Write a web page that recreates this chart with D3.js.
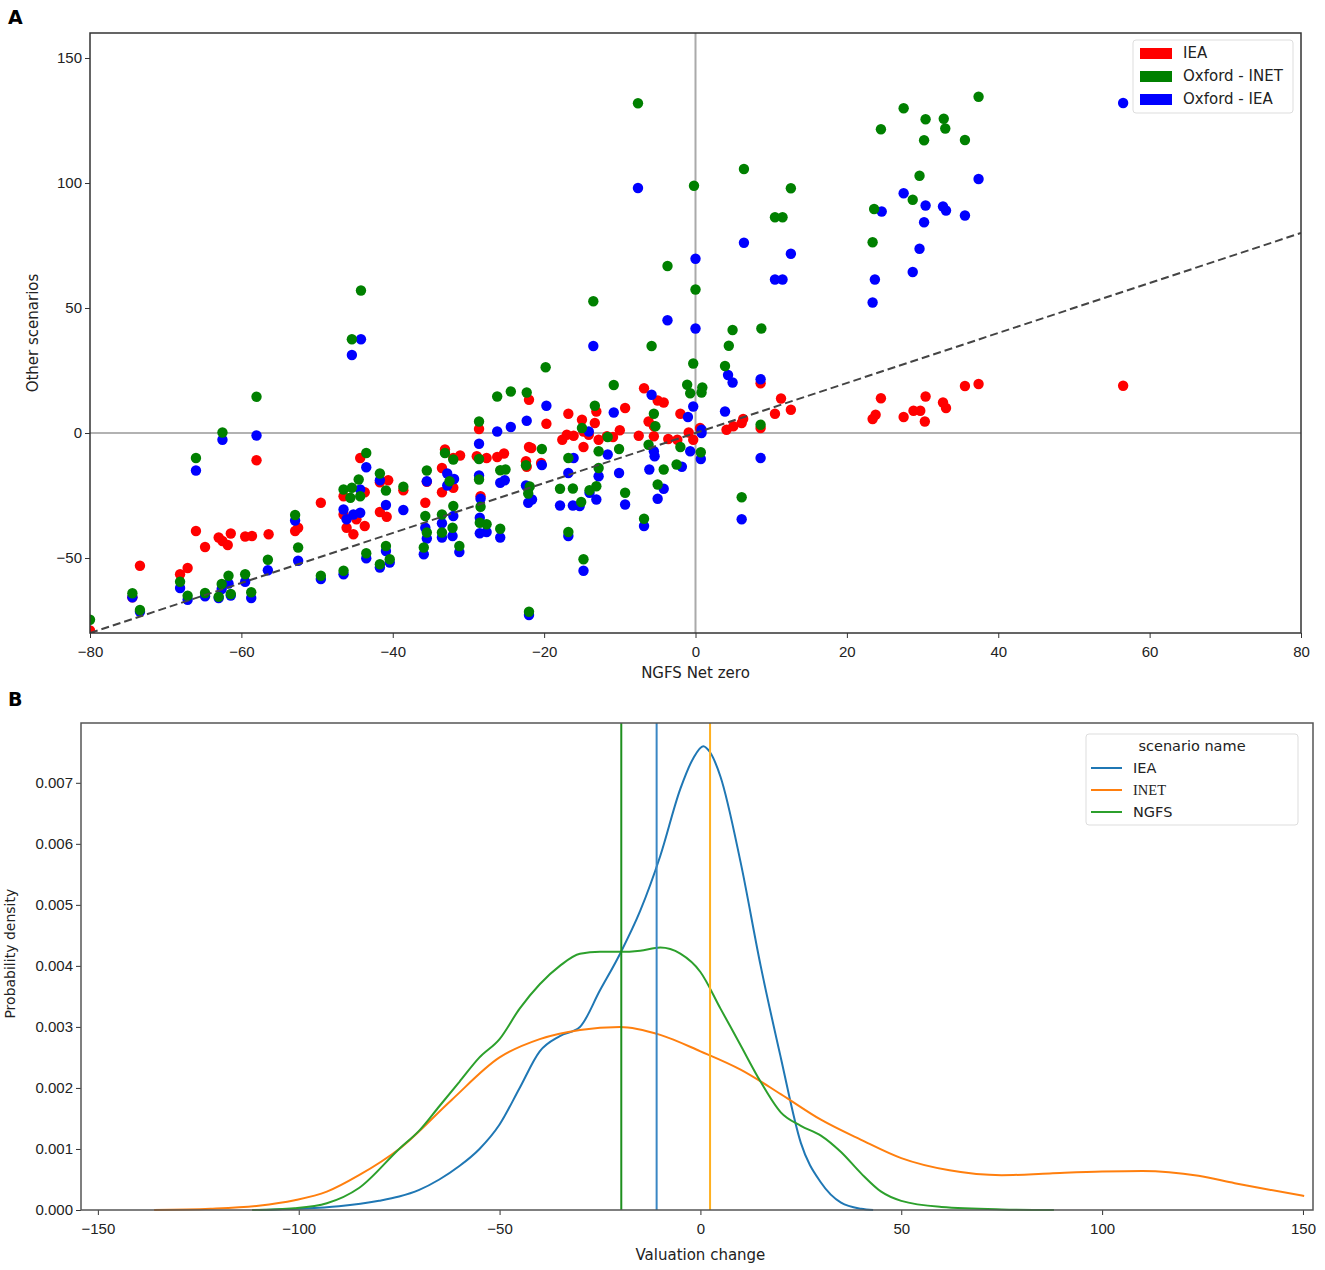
<!DOCTYPE html>
<html>
<head>
<meta charset="utf-8">
<script src="https://cdn.jsdelivr.net/npm/d3@7"></script>
<style>
  body { margin: 0; background: #fff; }
  svg { font-family: "DejaVu Sans", sans-serif; }
  .tick text { fill: #222; }
</style>
</head>
<body>
<div id="chart"></div>
<script>
// ---------- panel A data: [NGFS net zero, other scenario] ----------
var ieaPoints = [
  [-80,-79],[-74.4,-65.7],[-73.4,-53.1],[-68.1,-56.5],[-67.1,-54],[-66,-39.2],[-64.8,-45.6],[-63,-41.8],
  [-62.5,-43.2],[-61.8,-44.8],[-61.4,-40.2],[-59.5,-41.4],[-58.6,-41.2],[-58,-10.9],[-56.4,-40.5],
  [-52.9,-39.2],[-52.5,-37.9],[-49.5,-27.9],[-46.5,-25.3],[-46.5,-32.6],[-46.1,-37.9],[-45.2,-40.5],
  [-44.8,-34.5],[-43.7,-37.2],[-43.7,-23.7],[-44.3,-10],[-41.7,-19.7],[-40.6,-18.9],[-41.7,-31.6],
  [-40.8,-33.5],[-38.6,-22.9],[-35.5,-19.5],[-35.7,-27.9],[-33.1,-6.6],[-33.5,-14],[-33.5,-23.7],
  [-32,-10],[-31.1,-9],[-32,-21.9],[-28.6,1.6],[-28.9,-9.3],[-27.6,-10],[-28.4,-25.3],[-26.2,-9.6],
  [-25.3,-8.2],[-22,13.3],[-22,-5.6],[-21.7,-6],[-22.4,-11.3],[-22.3,-13.5],[-20.4,-12],[-19.7,3.7],
  [-16.8,7.7],[-15,5.3],[-13.3,4],[-13.1,8.6],[-9.3,10],[-6.8,17.9],[-5,13],[-4.2,12.2],[-6.2,4.6],
  [-5.5,2.7],[-2,7.7],[0.6,2],[0.7,1],[-17.6,-2.7],[-17,-0.7],[-16.1,-1.1],[-14.8,0.6],[-14.1,-0.7],
  [-12.8,-2.7],[-14.8,-5.6],[-11.7,-1.3],[-10.9,-1.6],[-10,1.1],[-7.5,-1.1],[-5.5,-1.3],[-3.6,-2.4],
  [-2.4,-2.7],[-0.9,0.2],[-0.3,-2.7],[4.1,1.3],[5,2.7],[6.1,4],[6.3,5.6],[8.6,19.9],[8.6,2],[10.5,7.7],
  [11.3,13.8],[12.6,9.3],[23.4,5.6],[23.8,7.3],[24.5,13.9],[27.5,6.4],[28.8,8.9],[29.7,8.9],[30.3,4.6],
  [30.4,14.6],[32.7,12.2],[33.1,10],[35.6,18.8],[37.4,19.6],[56.5,18.9]
];

var oxfordIeaPoints = [
  [-74.4,-65.7],[-73.4,-71.5],[-68.1,-62],[-67.1,-66.7],[-66,-15],[-64.8,-65.3],[-63,-66],[-62.5,-2.7],
  [-62.6,-62.4],[-61.7,-60.2],[-61.4,-65],[-59.5,-59.5],[-58.7,-66],[-58,-1],[-56.5,-54.9],[-52.9,-35],
  [-52.5,-51.1],[-49.5,-58.4],[-46.5,-56.5],[-46.5,-30.6],[-46.1,-34.5],[-45.2,-32.6],[-44.3,-31.9],
  [-44.3,-22.6],[-45.4,31.2],[-44.2,37.5],[-43.5,-13.7],[-43.5,-50.1],[-41.7,-18.9],[-40.9,-28.8],
  [-40.9,-47.2],[-41.7,-53.8],[-40.4,-51.8],[-38.6,-30.8],[-35.5,-19.3],[-35.7,-37.9],[-35.5,-42.2],
  [-35.9,-48.5],[-32.8,-16.2],[-32.8,-21],[-33.5,-36.1],[-33.5,-41.8],[-32,-33.2],[-32.1,-41.2],
  [-31.2,-47.6],[-31.9,-18.4],[-28.6,-4.3],[-28.6,-17],[-28.4,-26.3],[-28.5,-33.9],[-28.5,-40.1],
  [-27.6,-39.6],[-26.2,0.6],[-24.4,2.4],[-22.3,4.9],[-19.7,10.9],[-20.3,-12.8],[-22.4,-21],[-22.1,-27.9],
  [-21.6,-26.6],[-25.8,-19.9],[-25.2,-18.9],[-25.8,-41.8],[-5.8,15.3],[4.3,23.2],[4.9,20.2],[8.6,21.5],
  [-0.3,10.6],[3.9,8.6],[-14.1,0.6],[-10.8,8.2],[-1,6.4],[0.8,1.3],[0.8,0],[-11.6,-8.6],[-16.1,-10],
  [-16.8,-16],[-12.8,-17.3],[-10.1,-16],[-5.5,-7.3],[-5.4,-9.3],[-0.7,-7.3],[0.7,-10.4],[-6.1,-14.6],
  [-1.8,-13.5],[-4.2,-22.3],[-5,-26.3],[-17.9,-29],[-16.2,-29],[-15.3,-29.2],[-14,-23.9],[-13.1,-26.6],
  [-9.3,-28.6],[-6.8,-37.2],[-16.8,-41.2],[-14.8,-55.1],[-22,-72.8],[-7.6,98],[8.6,-10],[6.1,-34.5],
  [6.4,76.1],[12.6,71.7],[10.5,61.4],[11.5,61.4],[0,69.7],[-3.7,45.1],[0,41.8],[-13.5,34.8],
  [23.4,52.2],[23.7,61.4],[24.6,88.6],[27.5,95.9],[28.7,64.4],[29.6,73.7],[30.2,84.3],[30.4,91],
  [32.7,90.6],[33.1,89],[35.6,87],[37.4,101.6],[56.5,132]
];

var oxfordInetPoints = [
  [-80,-74.7],[-74.4,-64.1],[-73.4,-70.8],[-68.1,-59.5],[-67.1,-65.1],[-66,-10],[-64.8,-64],[-63,-65.5],
  [-62.5,0.2],[-62.6,-60.4],[-61.7,-57.1],[-61.4,-64.4],[-59.5,-56.5],[-58.7,-63.7],[-58,14.5],
  [-56.5,-50.7],[-52.9,-32.8],[-52.5,-45.8],[-49.5,-57.1],[-46.5,-55.1],[-46.5,-22.6],[-45.4,-21.9],
  [-44.5,-18.6],[-45.6,-25.9],[-44.3,-25.3],[-45.4,37.5],[-44.2,57],[-43.5,-8],[-43.5,-48.1],
  [-41.7,-16.2],[-40.9,-23],[-40.9,-45.2],[-41.7,-52.5],[-40.4,-50.5],[-38.6,-21.5],[-35.5,-15],
  [-35.7,-33.2],[-35.5,-39.8],[-35.9,-45.8],[-33.1,-8],[-33.5,-32.6],[-33.5,-39.8],[-32,-29.2],
  [-32,-10.6],[-32.5,-19.3],[-32.1,-37.9],[-31.2,-45.2],[-28.6,4.6],[-28.6,-10.4],[-28.6,-18.6],
  [-28.4,-29.5],[-28.5,-35.9],[-27.6,-36.5],[-26.2,14.6],[-24.4,16.6],[-22.3,16.2],[-20.3,-6.4],
  [-22.4,-12.9],[-25.8,-14.9],[-25.1,-14.6],[-21.9,-21.4],[-22.1,-24.2],[-25.8,-38.3],[-19.8,26.3],
  [-22,-71.5],[-10.8,19.2],[-1.1,19.3],[-0.7,15.9],[0.9,18.2],[0.8,16.2],[-0.3,27.8],[3.9,26.8],
  [-16.8,-10],[-15,2],[-13.3,10.9],[-11.6,-1.6],[-10.1,-6.4],[-12.8,-7.3],[-12.8,-14],[-6.2,-4.7],
  [-5.5,7.7],[-5.3,2.7],[-2,-5.6],[0.7,-7.7],[-4.2,-14.6],[-2.5,-12.6],[-5,-20.6],[-17.9,-22.3],
  [-16.2,-22.2],[-14,-22.9],[-13.1,-21.3],[-15.1,-27.6],[-9.3,-23.9],[-6.8,-34.3],[-16.8,-39.6],
  [-14.8,-50.5],[-7.6,131.9],[-0.2,98.9],[6.4,105.6],[12.6,97.9],[10.5,86.3],[11.5,86.3],[-3.7,66.8],
  [0,57.4],[-13.5,52.7],[4.9,41.2],[8.7,41.8],[-5.8,34.8],[4.4,34.9],[6.1,-25.7],[8.6,3.3],
  [23.4,76.3],[23.6,89.6],[24.5,121.5],[27.5,129.9],[28.7,93.3],[29.6,102.9],[30.2,117.1],[30.4,125.5],
  [32.8,125.7],[33,121.8],[35.6,117.2],[37.4,134.5]
];

var scatterSeries = ["IEA", "Oxford - INET", "Oxford - IEA"];
var scatterColors = ["#ff0000", "#008000", "#0000ff"];
var scatterXTicks = [-80, -60, -40, -20, 0, 20, 40, 60, 80];
var scatterYTicks = [-50, 0, 50, 100, 150];

// ---------- panel B data: [valuation change, density] ----------
var ieaDensity = [
  [-110,0],[-100,0.00002],[-90,0.00006],[-80,0.00015],[-75,0.00022],[-70,0.00033],[-65,0.0005],
  [-60,0.00072],[-55,0.001],[-50,0.0014],[-45,0.002],[-40,0.0026],[-35,0.00285],[-30,0.003],
  [-25,0.0036],[-20,0.0042],[-15,0.0049],[-10,0.0058],[-5,0.0069],[-1.8,0.0074],[0.7,0.0076],
  [2.4,0.0075],[5,0.0071],[10,0.0057],[15,0.004],[20,0.0025],[25,0.0011],[30,0.00045],[35,0.00012],
  [40,0.00002],[43,0]
];
var inetDensity = [
  [-136,0],[-122,0.00002],[-110,0.00007],[-101,0.00016],[-93,0.0003],[-85,0.00057],[-75,0.001],
  [-62,0.0018],[-50,0.0025],[-40,0.0028],[-30,0.00295],[-20,0.003],[-10,0.00287],[0,0.0026],
  [10,0.0023],[20,0.0019],[30,0.00148],[40,0.00115],[50,0.00085],[62,0.00065],[75,0.00057],
  [87,0.0006],[100,0.00063],[110,0.00064],[124,0.00056],[133,0.00044],[141,0.00034],[150.3,0.00023]
];
var ngfsDensity = [
  [-111.6,0],[-101,0.00003],[-93,0.00011],[-85,0.00036],[-75,0.001],[-70,0.0013],[-65,0.0017],
  [-60,0.0021],[-55,0.0025],[-50,0.0028],[-45,0.0033],[-40,0.0037],[-35,0.004],[-30,0.0042],
  [-25,0.00423],[-20,0.00423],[-15,0.00425],[-10,0.0043],[-5,0.0042],[0,0.0039],[5,0.0033],
  [10,0.0027],[15,0.0021],[20,0.0016],[25,0.00138],[30,0.00122],[35,0.00095],[40,0.0006],
  [45,0.0003],[50,0.00015],[60,0.00005],[75,0.00001],[88,0]
];
var densityNames = ["IEA", "INET", "NGFS"];
var densityColors = ["#1f77b4", "#ff7f0e", "#2ca02c"];
var meanLines = [-10.9, 2.4, -19.7];   // IEA, INET, NGFS
var meanColors = ["#3a87c4", "#ffb020", "#1e8f1e"];
var densityXTicks = [-150, -100, -50, 0, 50, 100, 150];
var densityYTicks = [0, 0.001, 0.002, 0.003, 0.004, 0.005, 0.006, 0.007];

var fmtMinus = function(v) { return String(v).replace("-", "\u2212"); };

var svg = d3.select("#chart").append("svg")
  .attr("width", 1325).attr("height", 1270);

// ================= PANEL A =================
var a = {left: 90, top: 33, width: 1211, height: 600};
var gA = svg.append("g").attr("transform", "translate(" + a.left + "," + a.top + ")");

var x = d3.scaleLinear().domain([-80, 80]).range([0, a.width]);
var y = d3.scaleLinear().domain([-80, 160]).range([a.height, 0]);

gA.append("defs").append("clipPath").attr("id", "clipA")
  .append("rect").attr("width", a.width).attr("height", a.height);

// zero lines
gA.append("line")
  .attr("x1", 0).attr("x2", a.width).attr("y1", y(0)).attr("y2", y(0))
  .attr("stroke", "#999").attr("stroke-width", 1.5);
gA.append("line")
  .attr("x1", x(0)).attr("x2", x(0)).attr("y1", 0).attr("y2", a.height)
  .attr("stroke", "#aaa").attr("stroke-width", 2);

var plotA = gA.append("g").attr("clip-path", "url(#clipA)");
var allScatter = [ieaPoints, oxfordIeaPoints, oxfordInetPoints];
var drawColors = ["#ff0000", "#0000ff", "#008000"];
allScatter.forEach(function(pts, i) {
  plotA.append("g").selectAll("circle")
    .data(pts)
    .enter().append("circle")
      .attr("cx", function(d) { return x(d[0]); })
      .attr("cy", function(d) { return y(d[1]); })
      .attr("r", 5.2)
      .attr("fill", drawColors[i]);
});

// y = x reference line
plotA.append("line")
  .attr("x1", x(-80)).attr("y1", y(-80)).attr("x2", x(80)).attr("y2", y(80))
  .attr("stroke", "#444").attr("stroke-width", 2).attr("stroke-dasharray", "8,4");

// axes
var xAxisA = gA.append("g")
  .attr("transform", "translate(0," + a.height + ")")
  .call(d3.axisBottom(x).tickValues(scatterXTicks).tickFormat(fmtMinus).tickSizeOuter(0).tickSize(5));
var yAxisA = gA.append("g")
  .call(d3.axisLeft(y).tickValues(scatterYTicks).tickFormat(fmtMinus).tickSizeOuter(0).tickSize(5));
[xAxisA, yAxisA].forEach(function(ax) {
  ax.select(".domain").remove();
  ax.selectAll(".tick line").attr("stroke", "#333");
  ax.selectAll(".tick text").style("font-size", "15px");
});
xAxisA.selectAll(".tick text").attr("dy", "1.05em");

gA.append("rect")
  .attr("width", a.width).attr("height", a.height)
  .attr("fill", "none").attr("stroke", "#333").attr("stroke-width", 1.5);

gA.append("text")
  .attr("x", a.width / 2).attr("y", a.height + 45)
  .attr("text-anchor", "middle").style("font-size", "15px").attr("fill", "#222")
  .text("NGFS Net zero");
gA.append("text")
  .attr("transform", "rotate(-90)")
  .attr("x", -(y(0) - 100)).attr("y", -52)
  .attr("text-anchor", "middle").style("font-size", "15px").attr("fill", "#222")
  .text("Other scenarios");

// legend A
var legA = gA.append("g").attr("transform", "translate(" + (a.width - 168) + ",7)");
legA.append("rect")
  .attr("width", 160).attr("height", 73).attr("rx", 3)
  .attr("fill", "#fff").attr("fill-opacity", 0.85)
  .attr("stroke", "#ddd");
scatterSeries.forEach(function(name, i) {
  legA.append("rect")
    .attr("x", 7).attr("y", 8 + i * 23).attr("width", 32).attr("height", 11)
    .attr("fill", scatterColors[i]);
  legA.append("text")
    .attr("x", 50).attr("y", 18 + i * 23)
    .style("font-size", "15px").attr("fill", "#222")
    .text(name);
});

svg.append("text").attr("x", 8).attr("y", 24)
  .style("font-size", "19px").style("font-weight", "bold").text("A");

// ================= PANEL B =================
var b = {left: 81, top: 723, width: 1232, height: 487};
var gB = svg.append("g").attr("transform", "translate(" + b.left + "," + b.top + ")");

var xb = d3.scaleLinear().domain([-154.2, 152.5]).range([0, b.width]);
var yb = d3.scaleLinear().domain([0, 0.00798]).range([b.height, 0]);

var line = d3.line()
  .x(function(d) { return xb(d[0]); })
  .y(function(d) { return yb(d[1]); })
  .curve(d3.curveMonotoneX);

[ieaDensity, inetDensity, ngfsDensity].forEach(function(series, i) {
  gB.append("path")
    .datum(series)
    .attr("d", line)
    .attr("fill", "none")
    .attr("stroke", densityColors[i])
    .attr("stroke-width", 2);
});

meanLines.forEach(function(v, i) {
  gB.append("line")
    .attr("x1", xb(v)).attr("x2", xb(v)).attr("y1", 0).attr("y2", b.height)
    .attr("stroke", meanColors[i]).attr("stroke-width", 2);
});

var xAxisB = gB.append("g")
  .attr("transform", "translate(0," + b.height + ")")
  .call(d3.axisBottom(xb).tickValues(densityXTicks).tickFormat(fmtMinus).tickSizeOuter(0).tickSize(5));
var yAxisB = gB.append("g")
  .call(d3.axisLeft(yb).tickValues(densityYTicks).tickFormat(d3.format(".3f")).tickSizeOuter(0).tickSize(5));
[xAxisB, yAxisB].forEach(function(ax) {
  ax.select(".domain").remove();
  ax.selectAll(".tick line").attr("stroke", "#333");
  ax.selectAll(".tick text").style("font-size", "15px");
});
xAxisB.selectAll(".tick text").attr("dy", "1.05em");

gB.append("rect")
  .attr("width", b.width).attr("height", b.height)
  .attr("fill", "none").attr("stroke", "#555").attr("stroke-width", 1.5);

gB.append("text")
  .attr("x", xb(0)).attr("y", b.height + 50)
  .attr("text-anchor", "middle").style("font-size", "15px").attr("fill", "#222")
  .text("Valuation change");
gB.append("text")
  .attr("transform", "rotate(-90)")
  .attr("x", -yb(0.0042)).attr("y", -66)
  .attr("text-anchor", "middle").style("font-size", "14px").attr("fill", "#222")
  .text("Probability density");

// legend B
var legB = gB.append("g").attr("transform", "translate(" + (1086 - b.left) + "," + (734 - b.top) + ")");
legB.append("rect")
  .attr("width", 212).attr("height", 91).attr("rx", 3)
  .attr("fill", "#fff").attr("stroke", "#ddd");
legB.append("text")
  .attr("x", 106).attr("y", 17).attr("text-anchor", "middle")
  .style("font-size", "14.5px").attr("fill", "#222")
  .text("scenario name");
densityNames.forEach(function(name, i) {
  legB.append("line")
    .attr("x1", 5).attr("x2", 36).attr("y1", 34 + i * 22).attr("y2", 34 + i * 22)
    .attr("stroke", densityColors[i]).attr("stroke-width", 2);
  legB.append("text")
    .attr("x", 47).attr("y", 39 + i * 22)
    .style("font-size", "14.5px").attr("fill", "#222")
    .style("font-family", name === "INET" ? "'Liberation Serif', serif" : null)
    .text(name);
});

svg.append("text").attr("x", 8).attr("y", 706)
  .style("font-size", "19px").style("font-weight", "bold").text("B");
</script>
</body>
</html>
